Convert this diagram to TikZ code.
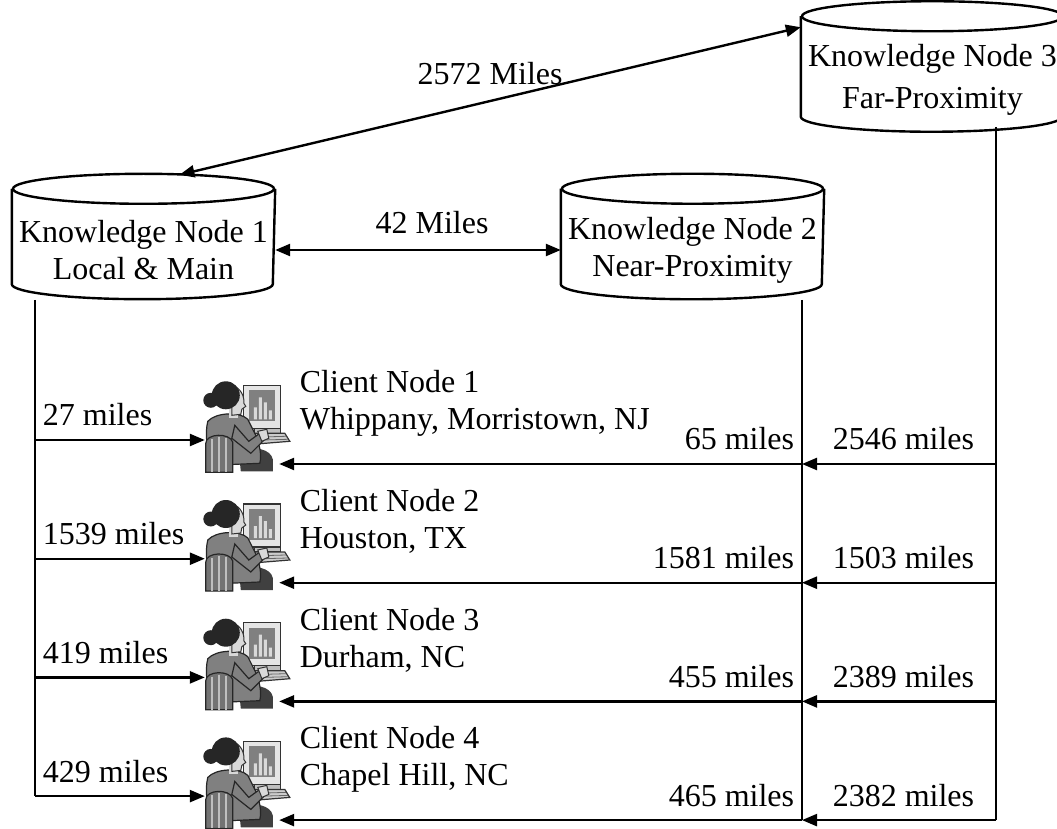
\documentclass[tikz,border=0pt]{standalone}
\usepackage{fontspec}
\setmainfont{Liberation Serif}
\usetikzlibrary{arrows.meta,calc}

\tikzset{client/.pic={
    % monitor with bar chart
    \filldraw[fill=black!10, draw=black!80, line width=0.6pt] (39,10) rectangle (76,53);
    \fill[black!50] (44,15) rectangle (70,46);
    \fill[black!15] (49,32) rectangle (52,44) (54,22) rectangle (57,44) (59,27) rectangle (62,44) (64,35) rectangle (67,44);
    \filldraw[fill=black!25, draw=black!80, line width=0.6pt] (50,53) rectangle (76,58);
    % keyboard
    \filldraw[fill=black!20, draw=black!80, line width=0.6pt] (44,58) -- (80,58) -- (85,66) -- (48,69) -- cycle;
    \draw[black!60, line width=0.4pt] (47,62) -- (81,61) (48,65) -- (83,64);
    % chair seat
    \fill[black!75] (34,76) .. controls (50,70) and (66,74) .. (68,84) -- (68,96) -- (36,96) -- cycle;
    % body
    \filldraw[fill=black!50, draw=black!85, line width=0.6pt] (3,46) .. controls (11,37) and (35,36) .. (43,44)
      -- (51,60) .. controls (55,70) and (57,80) .. (55,88) -- (7,90) .. controls (2,74) and (0,58) .. (3,46) -- cycle;
    \filldraw[fill=black!50, draw=black!85, line width=0.6pt] (30,50) -- (44,66) -- (55,58) -- (59,65) -- (46,78) -- (27,63) -- cycle;
    \filldraw[fill=black!15, draw=black!80, line width=0.5pt] (53,56) -- (62,54) -- (64,63) -- (57,66) -- cycle;
    % neck, face and hair
    \fill[black!15] (24,32) rectangle (33,43);
    \filldraw[fill=black!15, draw=black!80, line width=0.5pt] (27,10) .. controls (36,12) and (40,22) .. (39,28)
      -- (41,31) -- (37,34) -- (36,39) -- (27,40) -- cycle;
    \fill[black!85] (21,20) ellipse [x radius=14, y radius=14];
    \fill[black!85] (6,25) circle (7.5);
    % chair back
    \filldraw[fill=black!55, draw=black!85, line width=0.6pt] (1,97) -- (1,68) .. controls (1,58) and (25,57) .. (28,67) -- (28,97) -- cycle;
    \draw[black!25, line width=0.9pt] (7,64) -- (7,97) (14,62) -- (14,97) (21,63) -- (21,97);
}}

\begin{document}
\begin{tikzpicture}[x=0.5pt,y=-0.5pt,line width=1.2pt,font=\fontsize{16}{18.5}\selectfont]
  \tikzset{drum/.style={rectangle, minimum width=130.5pt, minimum height=33pt, inner sep=0pt, align=center},
    station/.style={minimum width=36pt, minimum height=47.5pt, inner sep=0pt},
    place/.style={align=left},
    link/.style={-{Triangle[length=7.5pt,width=6pt]}},
    twoway/.style={{Triangle[length=7.5pt,width=6pt]}-{Triangle[length=7.5pt,width=6pt]}}}
  \useasboundingbox (0,0) rectangle (1057,829);

  % knowledge nodes (text part of each drum)
  \node[drum] at (143.5,250) (kn1) {Knowledge Node 1\\Local \& Main};
  \node[drum] at (692.5,250) (kn2) {Knowledge Node 2\\Near-Proximity};
  \node[drum] at (932.5,80) (kn3) {Knowledge Node 3\\[2.5pt]Far-Proximity};

  % drum outlines around them
  \foreach \n in {kn1,kn2,kn3}{
    \draw ([yshift=13.5pt]\n.north west) -- (\n.south west)
      arc[start angle=180, end angle=360, x radius=65.25pt, y radius=7.5pt]
      -- ([yshift=13.5pt]\n.north east);
    \draw ([yshift=13.5pt]\n.north) ellipse [x radius=65.25pt, y radius=7.5pt];
  }

  \draw[twoway] ($(kn1.north)+(36,-41)$) -- ($(kn3.north west)+(0,-16)$) node[midway, above=4pt] {2572 Miles};
  \draw[twoway] (kn1.east) -- (kn2.west) node[midway, above=4pt, xshift=7pt] {42 Miles};

  \coordinate (k1) at (35,300);
  \coordinate (k2) at (802,300);
  \coordinate (k3) at (996,127);

  % client nodes
  \foreach \i/\city/\da/\db/\dc in {1/{Whippany, Morristown, NJ}/27/65/2546, 2/{Houston, TX}/1539/1581/1503,
      3/{Durham, NC}/419/455/2389, 4/{Chapel Hill, NC}/429/465/2382}{
    \pgfmathsetmacro\yl{440+118.7*(\i-1)}
    \pgfmathsetmacro\yr{\yl+24}
    \node[station] at (242,\yl-16) (c\i) {};
    \pic at (c\i.north west) {client};
    \node[place, anchor=west] at (292,\yl-37) (t\i) {Client Node \i\\\city};
    \coordinate (l\i) at (k1 |- 0,\yl);
    \coordinate (m\i) at (k2 |- 0,\yr);
    \coordinate (r\i) at (k3 |- 0,\yr);
    \draw[link] (l\i) -- (c\i.west |- l\i) node[pos=0, anchor=base west, yshift=7pt] {\da\ miles};
    \draw[link] (r\i) -- (m\i) node[pos=0, anchor=base east, xshift=-7pt, yshift=7pt] {\dc\ miles};
    \draw[link] (m\i) -- (c\i.east |- m\i) node[pos=0, anchor=base east, yshift=7pt] {\db\ miles};
  }

  \draw (k1) -- (l4);
  \draw (k2) -- (m4);
  \draw (k3) -- (r4);
\end{tikzpicture}
\end{document}
